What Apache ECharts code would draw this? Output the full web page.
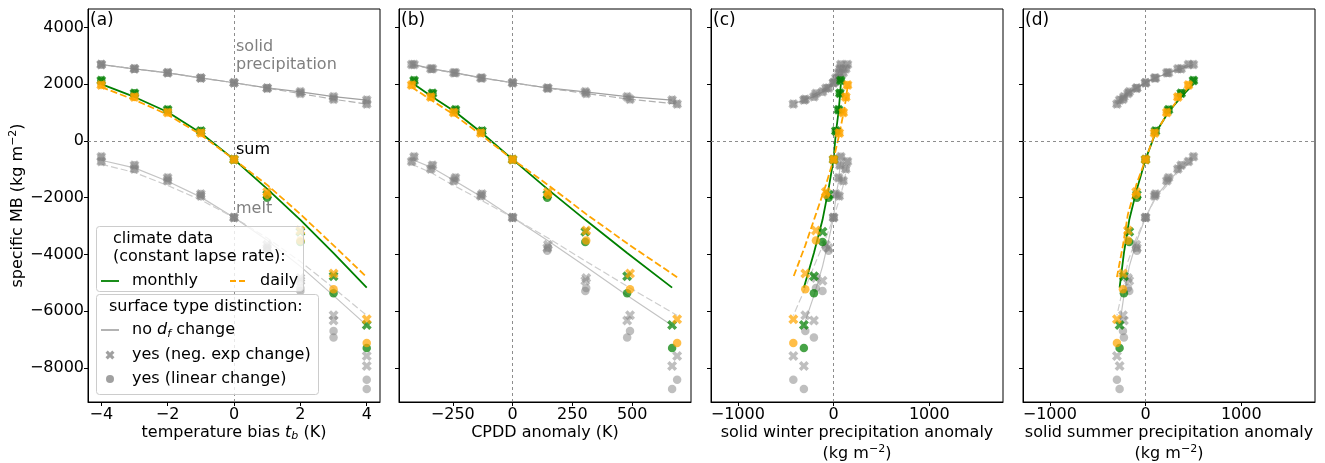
<!DOCTYPE html>
<html><head><meta charset="utf-8">
<script src="https://cdn.jsdelivr.net/npm/echarts@6/dist/echarts.min.js"></script>
<style>html,body{margin:0;padding:0;background:#fff}#c{width:1325px;height:463px}</style>
</head><body><div id="c"></div>
<script>
// ---------- data ----------
const T_BIAS   = [-4, -3, -2, -1, 0, 1, 2, 3, 4];
const CPDD_M   = [-412, -335, -239, -128, 0, 145, 304, 479, 667];
const CPDD_D   = [-422, -342, -246, -133, 0, 148, 308, 491, 688];
const WINTER_M = [76, 66, 52, 24, 0, -52, -115, -205, -310];
const WINTER_D = [146, 128, 101, 59, 0, -80, -184, -295, -420];
const SUMMER_M = [500, 372, 240, 104, 0, -90, -170, -226, -271];
const SUMMER_D = [448, 337, 222, 94, 0, -97, -184, -236, -299];

const PRCP_M      = [2690, 2540, 2400, 2220, 2050, 1870, 1730, 1560, 1440];
const PRCP_D      = [2690, 2540, 2400, 2220, 2050, 1860, 1670, 1470, 1300];
const SUM_LINE_M  = [2000, 1550, 1020, 280, -650, -1690, -2780, -3950, -5170];
const SUM_LINE_D  = [1900, 1450, 930, 220, -650, -1550, -2580, -3680, -4800];
const MELT_LINE_M = [-680, -950, -1420, -1980, -2700, -3500, -4420, -5450, -6500];
const MELT_LINE_D = [-820, -1110, -1570, -2080, -2700, -3420, -4250, -5180, -6150];

const SUM_NEGEXP_M  = [2130, 1680, 1100, 350, -650, -1900, -3200, -4770, -6490];
const SUM_LIN_M     = [2130, 1680, 1100, 350, -650, -2000, -3560, -5370, -7300];
const SUM_NEGEXP_D  = [1970, 1550, 1000, 280, -650, -1800, -3160, -4670, -6280];
const SUM_LIN_D     = [1970, 1550, 1000, 280, -650, -1900, -3510, -5230, -7120];
const MELT_NEGEXP_M = [-560, -860, -1300, -1870, -2700, -3770, -4930, -6330, -7930];
const MELT_LIN_M    = [-560, -860, -1300, -1870, -2700, -3870, -5290, -6930, -8740];
const MELT_NEGEXP_D = [-720, -990, -1400, -1940, -2700, -3660, -4830, -6140, -7580];
const MELT_LIN_D    = [-720, -990, -1400, -1940, -2700, -3760, -5180, -6700, -8420];

const Y_TICKS   = [-8000, -6000, -4000, -2000, 0, 2000, 4000];
const X_TICKS_A = [-4, -2, 0, 2, 4];
const X_TICKS_B = [-250, 0, 250, 500];
const X_TICKS_C = [-1000, 0, 1000];
const X_TICKS_D = [-1000, 0, 1000];
const PANEL_LABELS = ['(a)', '(b)', '(c)', '(d)'];

// ---------- layout / style ----------
const FONT = 'DejaVu Sans';
const GRID_LEFT = [88, 399, 711, 1023];
const GRID_W = 292, GRID_TOP = 9, GRID_H = 393;
const X_PTS = [[2.5,0],[5,2.5],[7.5,0],[10,2.5],[7.5,5],[10,7.5],[7.5,10],[5,7.5],[2.5,10],[0,7.5],[2.5,5],[0,2.5]];
const X_SYMBOL = 'path://M' + X_PTS.map(p => p.join(',')).join('L') + 'Z';
const GREEN = '#008000', ORANGE = '#FFA500', GRAY = '#808080';

const zip = (xs, ys) => xs.map((x, i) => [x, ys[i]]);
const fmt = v => String(v).replace('-', '\u2212');

const richName = {
  n: {fontSize: 16, fontFamily: FONT, color: '#000', lineHeight: 21},
  i: {fontSize: 16, fontFamily: FONT, fontStyle: 'italic', color: '#000', lineHeight: 21},
  s: {fontSize: 11, fontFamily: FONT, fontStyle: 'italic', color: '#000', lineHeight: 13, padding: [8, 0, 0, 0]},
  sup: {fontSize: 11, fontFamily: FONT, color: '#000', lineHeight: 13, padding: [0, 0, 8, 0]}
};
const UNIT = '{n|(kg m}{sup|\u22122}{n|)}';

const PANELS = [
  {xm: T_BIAS, xd: T_BIAS, min: -4.4, max: 4.4, ticks: X_TICKS_A,
   name: '{n|temperature bias }{i|t}{s|b}{n| (K)}'},
  {xm: CPDD_M, xd: CPDD_D, min: -475, max: 746, ticks: X_TICKS_B,
   name: '{n|CPDD anomaly (K)}'},
  {xm: WINTER_M, xd: WINTER_D, min: -1280, max: 1770, ticks: X_TICKS_C,
   name: '{n|solid winter precipitation anomaly}\n' + UNIT},
  {xm: SUMMER_M, xd: SUMMER_D, min: -1280, max: 1770, ticks: X_TICKS_D,
   name: '{n|solid summer precipitation anomaly}\n' + UNIT}
];

const grid = [], xAxis = [], yAxis = [], series = [];
PANELS.forEach((p, i) => {
  grid.push({left: GRID_LEFT[i], top: GRID_TOP, width: GRID_W, height: GRID_H,
    outerBoundsMode: 'none', containLabel: false,
    show: true, borderColor: '#000', borderWidth: 1, backgroundColor: 'transparent'});
  xAxis.push({type: 'value', gridIndex: i, min: p.min, max: p.max,
    name: p.name, nameLocation: 'middle', nameGap: 20, nameMoveOverlap: false,
    nameTextStyle: {fontSize: 16, fontFamily: FONT, color: '#000', lineHeight: 21,
      verticalAlign: 'top', rich: richName},
    axisLine: {show: true, onZero: false, lineStyle: {color: '#000', width: 1}},
    axisTick: {show: true, inside: false, length: 4, lineStyle: {color: '#000'}, customValues: p.ticks},
    axisLabel: {show: true, customValues: p.ticks, formatter: fmt, fontSize: 16, fontFamily: FONT, color: '#000', margin: 5},
    splitLine: {show: false}});
  yAxis.push({type: 'value', gridIndex: i, min: -9200, max: 4650,
    name: i === 0 ? '{n|specific MB }' + UNIT : '', nameLocation: 'middle', nameGap: 60, nameMoveOverlap: false,
    nameTextStyle: {fontSize: 16, fontFamily: FONT, color: '#000', rich: richName},
    axisLine: {show: true, onZero: false, lineStyle: {color: '#000', width: 1}},
    axisTick: {show: true, inside: false, length: 4, lineStyle: {color: '#000'}, customValues: Y_TICKS},
    axisLabel: {show: i === 0, customValues: Y_TICKS, formatter: fmt, fontSize: 16, fontFamily: FONT, color: '#000', margin: 4},
    splitLine: {show: false}});

  const base = {xAxisIndex: i, yAxisIndex: i, animation: false, silent: true};
  const line = (data, color, width, dashed, z) => Object.assign({}, base, {
    type: 'line', data, showSymbol: false, symbol: 'none', z,
    lineStyle: {color, width, type: dashed ? [7, 3] : 'solid'}});
  const scat = (data, sym, size, color, op, z) => Object.assign({}, base, {
    type: 'scatter', data, symbol: sym, symbolSize: size, z,
    itemStyle: {color, opacity: op}});

  const prcpM = line(zip(p.xm, PRCP_M), '#a0a0a0', 1.2, false, 2);
  prcpM.markLine = {silent: true, symbol: ['none', 'none'], label: {show: false},
    lineStyle: {color: GRAY, width: 0.9, type: [3, 3]},
    data: [{xAxis: 0}, {yAxis: 0}]};
  series.push(prcpM);
  series.push(line(zip(p.xd, PRCP_D), '#b0b0b0', 1.2, true, 2));
  series.push(line(zip(p.xm, MELT_LINE_M), '#c4c4c4', 1.2, false, 2));
  series.push(line(zip(p.xd, MELT_LINE_D), '#cdcdcd', 1.2, true, 2));
  series.push(line(zip(p.xm, SUM_LINE_M), GREEN, 1.8, false, 3));
  series.push(line(zip(p.xd, SUM_LINE_D), ORANGE, 1.8, true, 3));

  series.push(scat(zip(p.xm, PRCP_M), X_SYMBOL, 10, GRAY, 0.5, 4));
  series.push(scat(zip(p.xm, PRCP_M), 'circle', 8.5, GRAY, 0.5, 4));
  series.push(scat(zip(p.xd, PRCP_D), X_SYMBOL, 10, GRAY, 0.5, 4));
  series.push(scat(zip(p.xd, PRCP_D), 'circle', 8.5, GRAY, 0.5, 4));
  series.push(scat(zip(p.xm, MELT_NEGEXP_M), X_SYMBOL, 10, GRAY, 0.5, 4));
  series.push(scat(zip(p.xm, MELT_LIN_M), 'circle', 8.5, GRAY, 0.5, 4));
  series.push(scat(zip(p.xd, MELT_NEGEXP_D), X_SYMBOL, 10, GRAY, 0.5, 4));
  series.push(scat(zip(p.xd, MELT_LIN_D), 'circle', 8.5, GRAY, 0.5, 4));
  series.push(scat(zip(p.xm, SUM_NEGEXP_M), X_SYMBOL, 10, GREEN, 0.72, 5));
  series.push(scat(zip(p.xm, SUM_LIN_M), 'circle', 8.5, GREEN, 0.72, 5));
  series.push(scat(zip(p.xd, SUM_NEGEXP_D), X_SYMBOL, 10, ORANGE, 0.72, 5));
  series.push(scat(zip(p.xd, SUM_LIN_D), 'circle', 8.5, ORANGE, 0.72, 5));
});

// ---------- annotations & legends ----------
const txt = (x, y, text, color, size) => ({
  type: 'text', x, y, z: 101,
  style: {text, fill: color || '#000', font: (size || 16) + 'px "' + FONT + '"', textVerticalAlign: 'middle'}
});

const graphic = [];
PANEL_LABELS.forEach((l, i) => graphic.push(txt(GRID_LEFT[i] + 2, 21, l, '#000', 17)));
graphic.push(txt(236, 47, 'solid', GRAY));
graphic.push(txt(236, 65, 'precipitation', GRAY));
graphic.push(txt(236, 150, 'sum', '#000'));
graphic.push(txt(236, 209, 'melt', GRAY));

// legend 1
graphic.push({type: 'rect', z: 100, shape: {x: 96.5, y: 226.5, width: 207, height: 65, r: 3},
  style: {fill: 'rgba(255,255,255,0.8)', stroke: '#cccccc', lineWidth: 1}});
graphic.push(txt(113, 239, 'climate data'));
graphic.push(txt(113, 257, '(constant lapse rate):'));
graphic.push({type: 'line', z: 101, shape: {x1: 101, y1: 281, x2: 119, y2: 281},
  style: {stroke: GREEN, lineWidth: 1.8}});
graphic.push(txt(132, 281, 'monthly'));
graphic.push({type: 'line', z: 101, shape: {x1: 230, y1: 281, x2: 248, y2: 281},
  style: {stroke: ORANGE, lineWidth: 1.8, lineDash: [6, 3]}});
graphic.push(txt(260, 281, 'daily'));

// legend 2
graphic.push({type: 'rect', z: 100, shape: {x: 96.5, y: 294.5, width: 222, height: 100, r: 3},
  style: {fill: 'rgba(255,255,255,0.8)', stroke: '#cccccc', lineWidth: 1}});
graphic.push(txt(109, 307, 'surface type distinction:'));
graphic.push({type: 'line', z: 101, shape: {x1: 101, y1: 330, x2: 119, y2: 330},
  style: {stroke: GRAY, lineWidth: 1.2}});
graphic.push({type: 'text', x: 132, y: 330, z: 101, style: {
  text: '{n|no }{i|d}{s|f}{n| change}', textVerticalAlign: 'middle',
  rich: {n: {fontSize: 16, fontFamily: FONT, fill: '#000'},
         i: {fontSize: 16, fontFamily: FONT, fontStyle: 'italic', fill: '#000'},
         s: {fontSize: 11, fontFamily: FONT, fontStyle: 'italic', fill: '#000', padding: [8, 0, 0, 0]}}}});
graphic.push({type: 'polygon', z: 101,
  shape: {points: X_PTS.map(p => [105.5 + p[0] * 0.9, 350.5 + p[1] * 0.9])},
  style: {fill: GRAY, opacity: 0.75}});
graphic.push(txt(132, 355, 'yes (neg. exp change)'));
graphic.push({type: 'circle', z: 101, shape: {cx: 110, cy: 379, r: 4}, style: {fill: GRAY, opacity: 0.75}});
graphic.push(txt(132, 379, 'yes (linear change)'));

const chart = echarts.init(document.getElementById('c'), null, {renderer: 'canvas'});
chart.setOption({
  animation: false,
  backgroundColor: '#fff',
  textStyle: {fontFamily: FONT},
  grid, xAxis, yAxis, series, graphic
});
</script>
</body></html>
